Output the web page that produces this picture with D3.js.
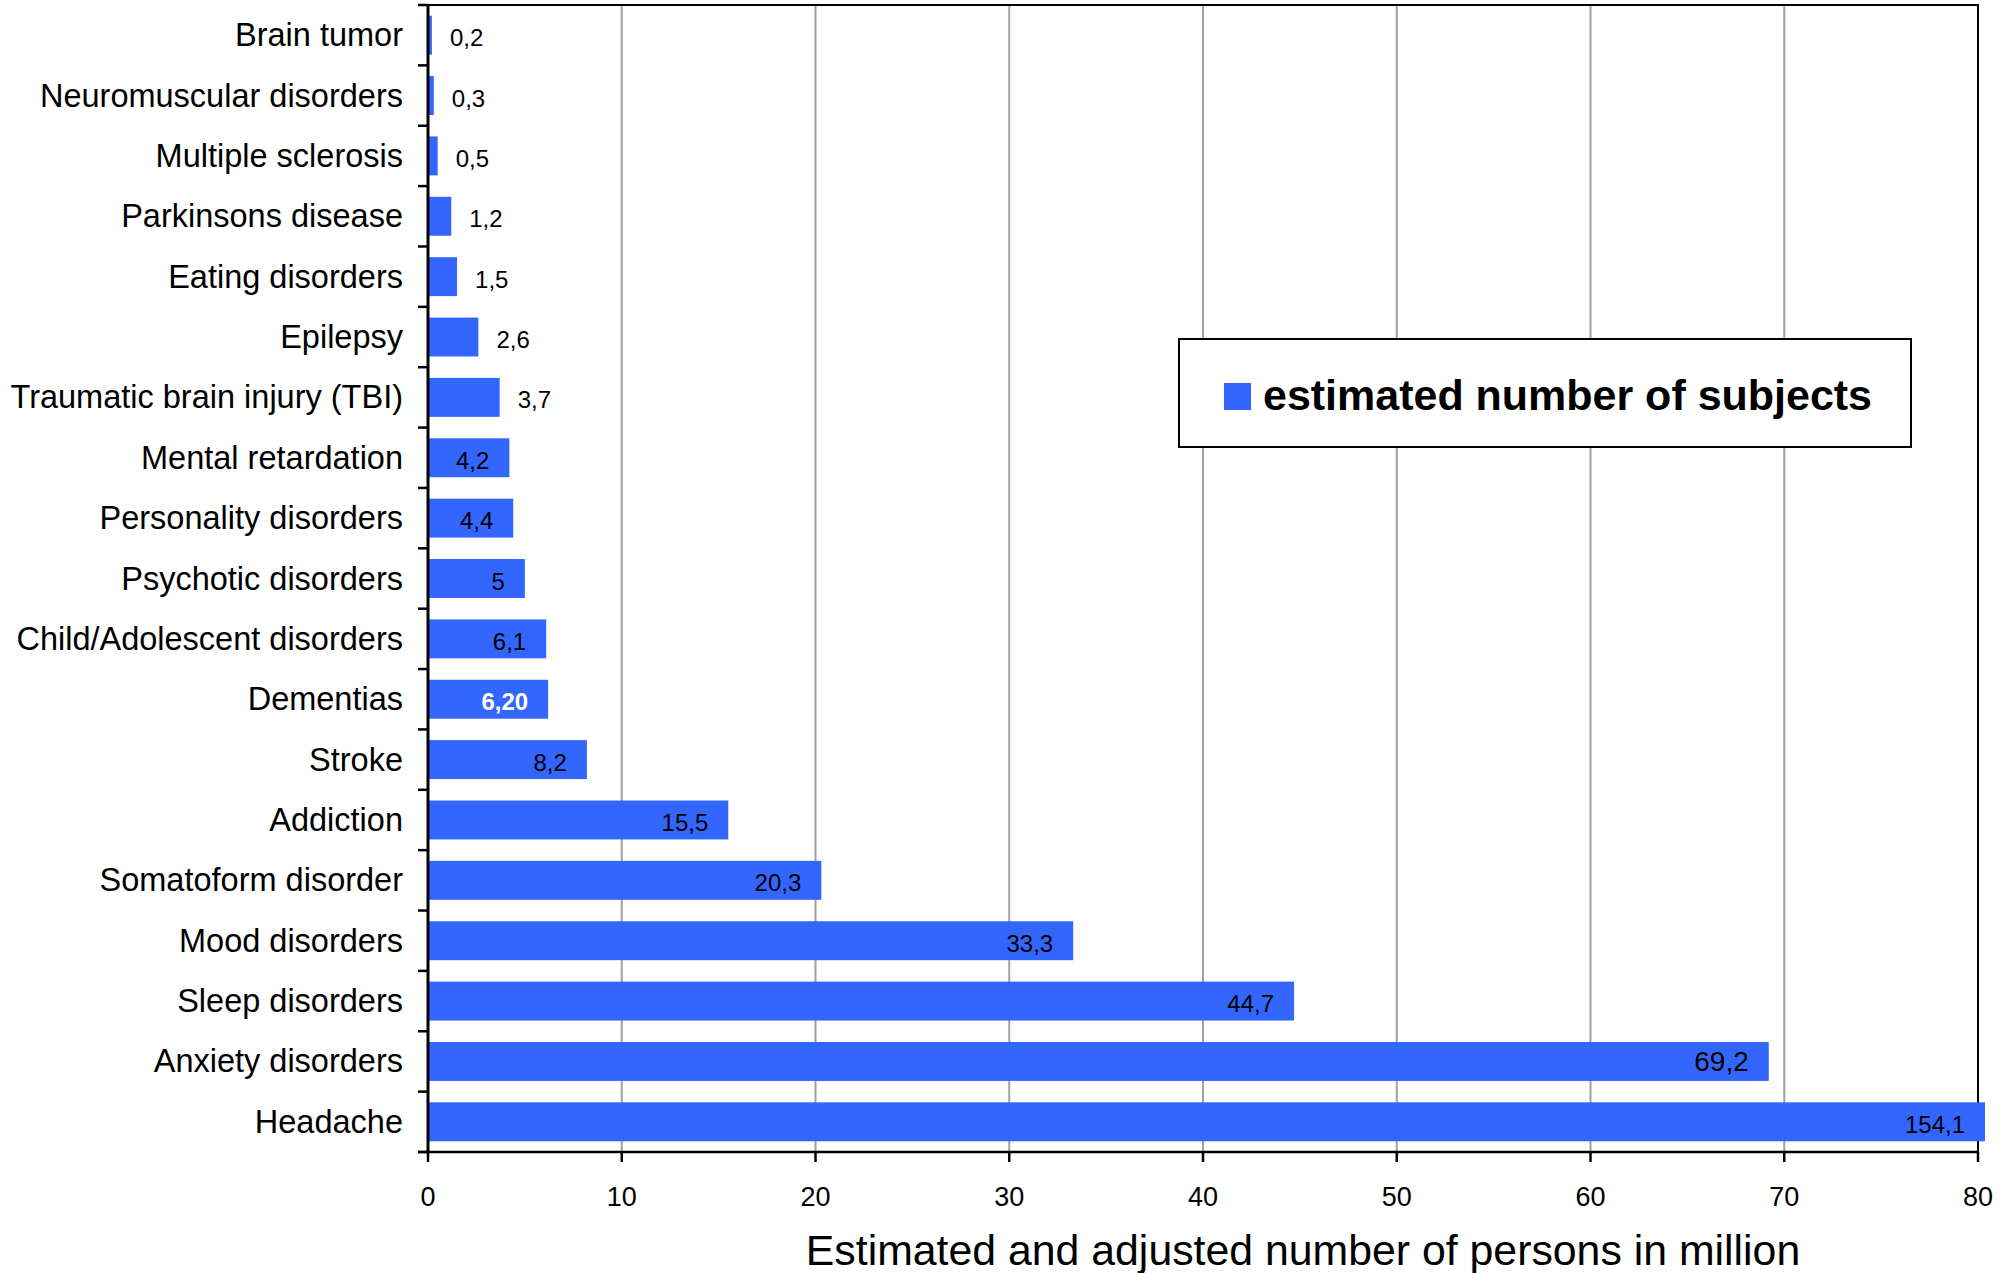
<!DOCTYPE html>
<html>
<head>
<meta charset="utf-8">
<script src="https://cdn.jsdelivr.net/npm/d3@7"></script>
<style>
  html, body { margin: 0; padding: 0; background: #fff; }
  svg { display: block; font-family: "Liberation Sans", Arial, sans-serif; }
</style>
</head>
<body>
<svg id="chart" width="2014" height="1273"></svg>
<script>
const categories = [
  "Brain tumor", "Neuromuscular disorders", "Multiple sclerosis", "Parkinsons disease",
  "Eating disorders", "Epilepsy", "Traumatic brain injury (TBI)", "Mental retardation",
  "Personality disorders", "Psychotic disorders", "Child/Adolescent disorders", "Dementias",
  "Stroke", "Addiction", "Somatoform disorder", "Mood disorders", "Sleep disorders",
  "Anxiety disorders", "Headache"
];
const values = [0.2, 0.3, 0.5, 1.2, 1.5, 2.6, 3.7, 4.2, 4.4, 5, 6.1, 6.2, 8.2, 15.5, 20.3, 33.3, 44.7, 69.2, 154.1];
const valueLabels = ["0,2", "0,3", "0,5", "1,2", "1,5", "2,6", "3,7", "4,2", "4,4", "5", "6,1", "6,20", "8,2", "15,5", "20,3", "33,3", "44,7", "69,2", "154,1"];
const xTicks = [0, 10, 20, 30, 40, 50, 60, 70, 80];
const seriesName = "estimated number of subjects";
const xTitle = "Estimated and adjusted number of persons in million";
const boldWhiteLabel = "Dementias";
const largeLabel = "Anxiety disorders";

(function () {
const data = categories.map((c, i) => ({ cat: c, v: values[i], label: valueLabels[i] }));

const svg = d3.select("#chart");
const pL = 428, pR = 1978, pT = 5, pB = 1152;
const barColor = "#3366ff";

const x = d3.scaleLinear().domain([0, 80]).range([pL, pR]);
const y = d3.scaleBand().domain(categories).range([pT, pB]).paddingInner(0.355).paddingOuter(0.1775);
const step = y.step();

// gridlines
svg.append("g").selectAll("line").data(xTicks.filter(t => t > 0 && t < 80)).join("line")
  .attr("x1", d => x(d)).attr("x2", d => x(d))
  .attr("y1", pT).attr("y2", pB)
  .attr("stroke", "#a0a0a0").attr("stroke-width", 2);

// plot border
svg.append("rect").attr("x", pL).attr("y", pT).attr("width", pR - pL).attr("height", pB - pT)
  .attr("fill", "none").attr("stroke", "#000").attr("stroke-width", 2);

// bars
const maxX = x(80) + 7;
svg.append("g").selectAll("rect").data(data).join("rect")
  .attr("x", x(0) + 1)
  .attr("y", d => y(d.cat))
  .attr("width", d => Math.min(x(d.v), maxX) - x(0) - 1)
  .attr("height", y.bandwidth())
  .attr("fill", barColor);

// value labels
svg.append("g").selectAll("text").data(data).join("text")
  .attr("x", d => d.v < 4 ? x(d.v) + 18 : Math.min(x(d.v), maxX) - 20)
  .attr("y", d => y(d.cat) + y.bandwidth() / 2 + (d.cat === largeLabel ? 10 : 11))
  .attr("text-anchor", d => d.v < 4 ? "start" : "end")
  .attr("font-size", d => d.cat === largeLabel ? 28 : 24)
  .attr("font-weight", d => d.cat === boldWhiteLabel ? "bold" : "normal")
  .attr("fill", d => d.cat === boldWhiteLabel ? "#fff" : "#000")
  .text(d => d.label);

// left axis line and ticks at band boundaries
svg.append("line").attr("x1", pL).attr("x2", pL).attr("y1", pT).attr("y2", pB)
  .attr("stroke", "#000").attr("stroke-width", 3);
svg.append("g").selectAll("line").data(d3.range(categories.length + 1)).join("line")
  .attr("x1", pL - 10).attr("x2", pL)
  .attr("y1", i => pT + i * step).attr("y2", i => pT + i * step)
  .attr("stroke", "#000").attr("stroke-width", 2.5);

// category labels
svg.append("g").selectAll("text").data(categories).join("text")
  .attr("x", 403)
  .attr("y", d => y(d) + y.bandwidth() / 2 + 11)
  .attr("text-anchor", "end")
  .attr("font-size", 32.5)
  .attr("fill", "#000")
  .text(d => d);

// bottom axis
svg.append("line").attr("x1", pL - 10).attr("x2", pR).attr("y1", pB).attr("y2", pB)
  .attr("stroke", "#000").attr("stroke-width", 2.5);
svg.append("g").selectAll("line").data(xTicks).join("line")
  .attr("x1", d => x(d)).attr("x2", d => x(d))
  .attr("y1", pB).attr("y2", pB + 10)
  .attr("stroke", "#000").attr("stroke-width", 2.5);
svg.append("g").selectAll("text").data(xTicks).join("text")
  .attr("x", d => x(d)).attr("y", 1206)
  .attr("text-anchor", "middle").attr("font-size", 27).attr("fill", "#000")
  .text(d => d);

// axis title
svg.append("text").attr("x", 1303).attr("y", 1265)
  .attr("text-anchor", "middle").attr("font-size", 42.8).attr("fill", "#000")
  .text(xTitle);

// legend
const lg = svg.append("g");
lg.append("rect").attr("x", 1179).attr("y", 339).attr("width", 732).attr("height", 108)
  .attr("fill", "#fff").attr("stroke", "#000").attr("stroke-width", 2);
lg.append("rect").attr("x", 1224).attr("y", 383).attr("width", 27).attr("height", 27).attr("fill", barColor);
lg.append("text").attr("x", 1263).attr("y", 410)
  .attr("font-size", 42).attr("font-weight", "bold").attr("fill", "#000")
  .attr("textLength", 609).attr("lengthAdjust", "spacingAndGlyphs")
  .text(seriesName);
})();
</script>
</body>
</html>
